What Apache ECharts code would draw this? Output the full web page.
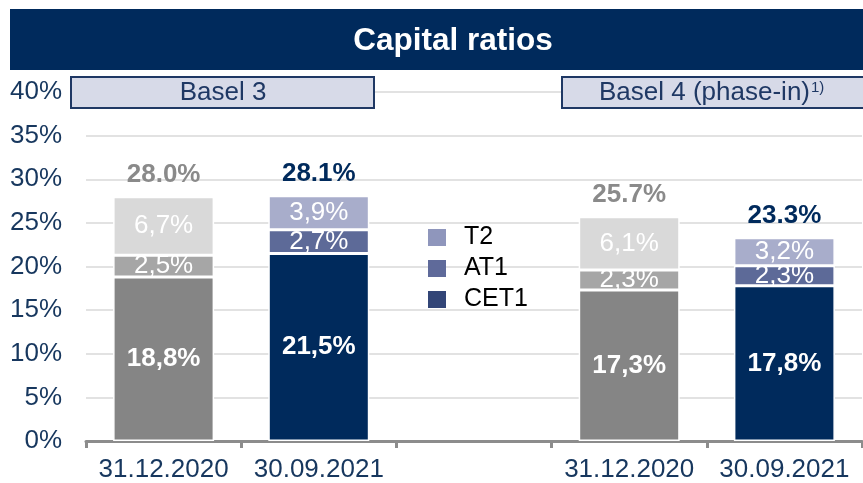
<!DOCTYPE html>
<html>
<head>
<meta charset="utf-8">
<script src="https://cdn.jsdelivr.net/npm/echarts@6/dist/echarts.min.js"></script>
<style>
  html, body { margin: 0; padding: 0; background: #fff; }
  #chart { width: 863px; height: 483px; }
</style>
</head>
<body>
<div id="chart"></div>
<script>
  // categories (middle one is an empty spacer between Basel 3 and Basel 4)
  const categories = ['31.12.2020', '30.09.2021', '', '31.12.2020', '30.09.2021'];
  const cet1 = [18.8, 21.5, null, 17.3, 17.8];
  const at1 = [2.5, 2.7, null, 2.3, 2.3];
  const t2 = [6.7, 3.9, null, 6.1, 3.2];
  const totals = [28.0, 28.1, null, 25.7, 23.3];
  const yTicks = [0, 5, 10, 15, 20, 25, 30, 35, 40];

  const navy = '#002A5C';
  const axisBlue = '#17375E';
  // colour per bar: grey for the older date, navy shades for the newer one
  const cetColors = ['#858585', navy, null, '#858585', navy];
  const at1Colors = ['#A6A6A6', '#5D6A98', null, '#A6A6A6', '#5D6A98'];
  const t2Colors = ['#D9D9D9', '#A8ADCB', null, '#D9D9D9', '#A8ADCB'];
  const totalColors = ['#8A8A8A', navy, null, '#8A8A8A', navy];

  const font = 'Arial, "Liberation Sans", sans-serif';
  const pct = v => v.toFixed(1).replace('.', ',') + '%';

  function items(vals, cols) {
    return vals.map((v, i) => v == null ? '-' : { value: v, itemStyle: { color: cols[i] } });
  }

  const chart = echarts.init(document.getElementById('chart'));

  const segLabel = (bold) => ({
    show: true,
    position: 'inside',
    color: '#fff',
    fontSize: 26,
    fontWeight: bold ? 'bold' : 'normal',
    fontFamily: font,
    formatter: p => pct(p.value)
  });

  const option = {
    animation: false,
    grid: { left: 86, right: 1, top: 92, bottom: 42 },
    legend: {
      orient: 'vertical',
      left: 423,
      top: 220,
      itemWidth: 18,
      itemHeight: 17,
      itemGap: 6,
      icon: 'rect',
      itemStyle: { borderWidth: 0 },
      data: ['T2', 'AT1', 'CET1'],
      textStyle: { fontSize: 25, color: '#000', fontFamily: font, padding: [0, 0, 0, 13] }
    },
    xAxis: {
      type: 'category',
      data: categories,
      axisLine: { lineStyle: { color: '#8C8C8C', width: 3 } },
      axisTick: { show: true, length: 7, lineStyle: { color: '#8C8C8C', width: 3 } },
      axisLabel: { color: axisBlue, fontSize: 26, fontFamily: font, margin: 16, interval: 0 }
    },
    yAxis: {
      type: 'value',
      min: yTicks[0],
      max: yTicks[yTicks.length - 1],
      interval: 5,
      axisLine: { show: false },
      axisTick: { show: false },
      splitLine: { lineStyle: { color: '#D9D9D9', width: 1.5 } },
      axisLabel: { color: axisBlue, fontSize: 26, fontFamily: font, margin: 24, formatter: '{value}%' }
    },
    series: [
      {
        name: 'CET1', type: 'bar', stack: 'cap', barWidth: 101,
        itemStyle: { color: '#324577', borderColor: '#fff', borderWidth: 1.5 },
        label: segLabel(true),
        data: items(cet1, cetColors)
      },
      {
        name: 'AT1', type: 'bar', stack: 'cap', barWidth: 101,
        itemStyle: { color: '#5F6A9A', borderColor: '#fff', borderWidth: 1.5 },
        label: segLabel(false),
        data: items(at1, at1Colors)
      },
      {
        name: 'T2', type: 'bar', stack: 'cap', barWidth: 101,
        itemStyle: { color: '#8F96BC', borderColor: '#fff', borderWidth: 1.5 },
        label: segLabel(false),
        data: items(t2, t2Colors)
      },
      {
        name: 'total', type: 'scatter', symbolSize: 0,
        itemStyle: { opacity: 1 },
        label: {
          show: true, position: 'top', distance: 9,
          fontSize: 26, fontWeight: 'bold', fontFamily: font,
          formatter: p => p.value.toFixed(1) + '%'
        },
        data: totals.map((v, i) => v == null ? '-' : { value: v, label: { color: totalColors[i] } })
      }
    ],
    graphic: [
      { type: 'rect', left: 10, top: 9, shape: { width: 853, height: 61 }, style: { fill: navy } },
      {
        type: 'text', x: 453, y: 41,
        style: { text: 'Capital ratios', fill: '#fff', font: 'bold 31.5px ' + font, textAlign: 'center', textVerticalAlign: 'middle' }
      },
      { type: 'rect', z: 10, shape: { x: 71, y: 77, width: 303, height: 31 }, style: { fill: '#D7DAE8', stroke: '#1F3864', lineWidth: 2 } },
      {
        type: 'text', z: 11, x: 223, y: 93,
        style: { text: 'Basel 3', fill: '#1F3864', font: '26px ' + font, textAlign: 'center', textVerticalAlign: 'middle' }
      },
      { type: 'rect', z: 10, shape: { x: 562, y: 77, width: 310, height: 31 }, style: { fill: '#D7DAE8', stroke: '#1F3864', lineWidth: 2 } },
      {
        type: 'text', z: 11, x: 599, y: 93,
        style: {
          text: '{a|Basel 4 (phase-in)}{s|1)}',
          textVerticalAlign: 'middle',
          rich: {
            a: { fill: '#1F3864', fontSize: 26, fontFamily: font },
            s: { fill: '#1F3864', fontSize: 15, fontFamily: font, verticalAlign: 'top', padding: [0, 0, 10, 1] }
          }
        }
      }
    ]
  };

  chart.setOption(option);
</script>
</body>
</html>
